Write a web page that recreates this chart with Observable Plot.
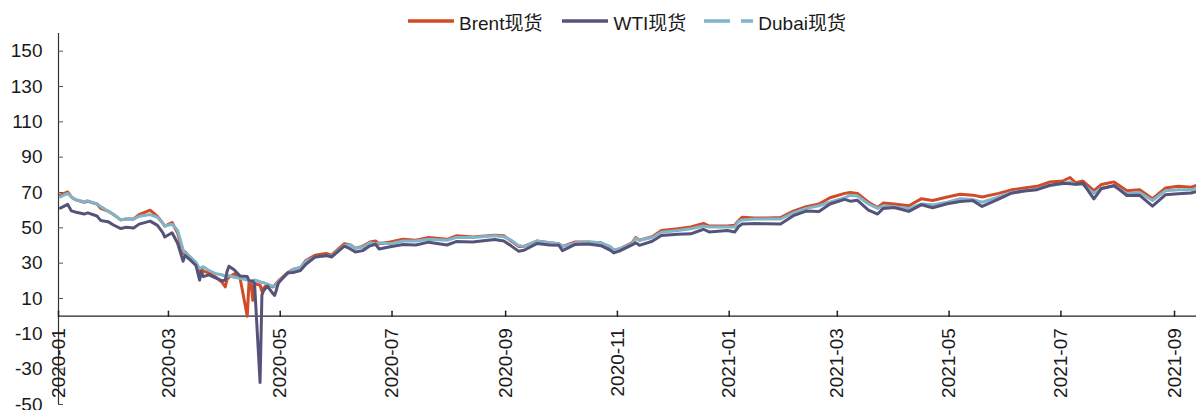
<!DOCTYPE html>
<html>
<head>
<meta charset="utf-8">
<script src="https://cdn.jsdelivr.net/npm/d3@7"></script>
<script src="https://cdn.jsdelivr.net/npm/@observablehq/plot@0.6"></script>
<style>
  html, body { margin: 0; padding: 0; background: #fff; }
  #wrap { position: relative; width: 1196px; height: 410px; font-family: "Liberation Sans", Arial, "Noto Sans CJK SC", sans-serif; }
  #legend { position: absolute; top: 9px; left: 58px; width: 1138px; height: 24px; display: flex; justify-content: center; align-items: center; font-size: 19px; color: #1a1a1a; }
  .item { display: flex; align-items: center; }
  .item svg { margin-right: 4px; }
</style>
</head>
<body>
<div id="wrap">
  <div id="legend"></div>
  <div id="chart"></div>
</div>
<script>
const seriesNames = ["Brent现货", "WTI现货", "Dubai现货"];
const seriesColors = ["#D24A26", "#56537A", "#80B4CB"];

const dates = [
  "2020-01-02","2020-01-06","2020-01-08","2020-01-10","2020-01-15","2020-01-17","2020-01-22","2020-01-24","2020-01-28","2020-01-31",
  "2020-02-04","2020-02-07","2020-02-11","2020-02-14","2020-02-20","2020-02-24","2020-02-27","2020-02-28",
  "2020-03-03","2020-03-06","2020-03-09","2020-03-10","2020-03-13","2020-03-16","2020-03-18","2020-03-19","2020-03-20","2020-03-23","2020-03-27","2020-03-30",
  "2020-04-01","2020-04-02","2020-04-03","2020-04-06","2020-04-09","2020-04-13","2020-04-14","2020-04-15","2020-04-16","2020-04-17","2020-04-20","2020-04-21","2020-04-22","2020-04-24","2020-04-27","2020-04-28","2020-04-30",
  "2020-05-05","2020-05-08","2020-05-12","2020-05-15","2020-05-20","2020-05-26","2020-05-29",
  "2020-06-05","2020-06-08","2020-06-11","2020-06-15","2020-06-19","2020-06-22","2020-06-24","2020-06-30",
  "2020-07-07","2020-07-14","2020-07-21","2020-07-31","2020-08-05","2020-08-14","2020-08-26","2020-08-31",
  "2020-09-04","2020-09-08","2020-09-11","2020-09-18","2020-09-25","2020-09-30",
  "2020-10-02","2020-10-09","2020-10-16","2020-10-23","2020-10-28","2020-10-30",
  "2020-11-02","2020-11-09","2020-11-11","2020-11-13","2020-11-20","2020-11-25",
  "2020-12-04","2020-12-11","2020-12-18","2020-12-21","2020-12-31",
  "2021-01-04","2021-01-06","2021-01-08","2021-01-15","2021-01-22","2021-01-29",
  "2021-02-05","2021-02-12","2021-02-19","2021-02-25",
  "2021-03-05","2021-03-08","2021-03-12","2021-03-18","2021-03-23","2021-03-26",
  "2021-04-01","2021-04-09","2021-04-16","2021-04-22","2021-04-30",
  "2021-05-07","2021-05-14","2021-05-19","2021-05-28",
  "2021-06-04","2021-06-11","2021-06-18","2021-06-25",
  "2021-07-02","2021-07-06","2021-07-09","2021-07-13","2021-07-19","2021-07-23","2021-07-30",
  "2021-08-06","2021-08-13","2021-08-20","2021-08-27",
  "2021-09-03","2021-09-10","2021-09-13"
];

const brent = [
  68.5,70.3,67.5,66.0,64.5,65.0,63.5,61.0,59.5,57.5,
  54.5,55.0,55.0,57.5,60.0,56.5,52.5,51.0,
  53.0,47.0,35.5,36.5,33.0,29.0,24.5,27.0,25.5,24.5,22.0,19.5,
  16.5,21.0,22.0,24.0,22.0,0,20.0,19.5,9.0,18.5,17.5,14.0,16.0,18.0,16.5,17.5,20.0,
  24.5,26.5,27.5,31.5,34.5,35.5,34.5,
  41.0,40.5,38.5,39.5,42.0,42.5,41.0,42.0,
  43.5,43.0,44.5,43.5,45.5,44.8,45.8,45.5,
  42.5,39.5,39.5,42.5,41.5,41.0,
  39.5,42.0,42.0,41.5,39.0,37.5,
  38.0,41.5,44.5,43.0,45.0,48.5,
  49.5,50.5,52.5,51.0,51.0,
  51.5,54.0,56.0,55.5,55.5,55.8,
  59.5,62.0,63.5,67.0,
  69.5,70.0,69.5,64.5,61.5,64.0,
  63.5,62.5,66.5,65.5,67.5,
  69.0,68.5,67.5,69.5,
  71.5,72.5,73.5,76.0,
  76.5,78.5,75.5,76.5,71.0,74.5,76.0,
  71.0,71.5,66.5,72.5,
  73.5,73.0,74.0
];

const wti = [
  61.2,63.3,59.6,59.0,57.8,58.5,56.7,54.2,53.5,51.6,
  49.6,50.3,49.9,52.1,53.8,51.4,47.1,44.8,
  47.2,41.3,31.1,34.4,31.7,28.7,20.4,25.2,22.4,23.4,21.5,20.1,
  20.3,25.3,28.3,26.1,22.8,22.4,20.1,19.9,19.9,18.3,-37.6,12.0,14.5,17.0,12.8,11.8,18.8,
  24.6,24.7,25.8,29.4,33.5,34.4,33.5,
  39.6,38.2,36.3,37.1,39.8,40.7,38.0,39.3,
  40.6,40.3,41.9,40.3,42.2,42.0,43.4,42.6,
  39.8,36.8,37.3,41.1,40.3,40.2,
  37.1,40.6,40.9,39.9,37.4,35.8,
  36.8,40.3,41.5,40.1,42.4,45.7,
  46.3,46.6,49.2,47.7,48.5,
  47.6,50.6,52.2,52.4,52.3,52.2,
  56.9,59.5,59.2,63.5,
  66.1,65.1,65.6,60.0,57.8,61.0,
  61.5,59.3,63.1,61.4,63.6,
  64.9,65.4,62.1,66.3,
  69.6,70.9,71.6,74.1,
  75.2,75.0,74.6,75.3,66.4,72.1,74.0,
  68.3,68.4,62.3,68.7,
  69.3,69.7,70.5
];

const dubai = [
  67.5,69.5,67.5,66.0,64.8,65.3,63.5,62.0,59.5,57.5,
  54.5,55.0,55.0,56.5,57.5,56.0,52.5,51.0,
  52.0,48.5,37.5,36.0,33.5,30.5,27.0,27.5,28.0,26.0,24.0,23.5,
  22.5,22.5,23.0,22.0,21.5,20.5,20.0,19.5,20.0,20.5,19.5,19.0,19.0,18.0,17.0,17.0,19.5,
  24.0,26.5,27.5,31.0,33.5,34.0,34.0,
  40.0,40.5,38.5,39.0,41.5,41.0,41.5,41.0,
  42.5,42.5,43.5,43.0,44.5,44.5,45.5,45.0,
  43.0,40.0,39.5,42.5,41.5,41.0,
  39.5,41.5,42.0,41.5,39.5,37.5,
  38.0,41.0,44.0,43.0,44.5,47.5,
  48.5,49.5,51.0,50.5,50.5,
  50.5,53.5,54.5,55.0,55.0,55.0,
  58.5,61.0,62.5,64.5,
  67.0,68.5,68.0,63.5,61.0,62.5,
  62.0,61.0,63.5,63.0,64.5,
  66.5,66.0,64.5,67.5,
  70.0,71.0,72.0,74.0,
  75.0,76.0,74.5,74.5,69.5,72.5,73.5,
  69.5,70.0,65.5,71.0,
  71.5,71.5,72.3
];

const xTickLabels = ["2020-01","2020-03","2020-05","2020-07","2020-09","2020-11","2021-01","2021-03","2021-05","2021-07","2021-09"];
const yTicks = [-50,-30,-10,10,30,50,70,90,110,130,150];

const parse = d3.utcParse("%Y-%m-%d");
const rows = dates.map((d, i) => ({date: parse(d), Brent: brent[i], WTI: wti[i], Dubai: dubai[i]}));
const xTicks = xTickLabels.map(s => parse(s + "-01"));
const xStart = parse("2020-01-01");
const xEnd = rows[rows.length - 1].date;

const chart = Plot.plot({
  width: 1196,
  height: 410,
  marginLeft: 58,
  marginRight: 0,
  marginTop: 33,
  marginBottom: 6,
  style: {fontFamily: '"Liberation Sans", Arial, sans-serif', fontSize: "19px", color: "#1a1a1a", background: "transparent"},
  x: {type: "utc", domain: [xStart, xEnd], axis: null},
  y: {domain: [-50, 160]},
  marks: [
    Plot.ruleX([xStart], {stroke: "#333", strokeWidth: 1.2}),
    Plot.axisY({ticks: yTicks, tickSize: 5, dx: 5, tickPadding: 16, stroke: "#555", label: null, tickFormat: d => String(d)}),
    Plot.ruleY([0], {stroke: "#222", strokeWidth: 1.4}),
    Plot.vector(xTicks, {x: d => d, y: () => 0, length: 5, anchor: "start", stroke: "#222",
      shape: {draw(ctx, l) { ctx.moveTo(0, 0); ctx.lineTo(0, -l); }}}),
    Plot.text(xTicks, {x: d => d, y: () => 0, text: (d, i) => xTickLabels[i], rotate: -90, textAnchor: "end", lineAnchor: "middle", dy: 12, fill: "#1a1a1a"}),
    Plot.line(rows, {x: "date", y: "Brent", stroke: seriesColors[0], strokeWidth: 3}),
    Plot.line(rows, {x: "date", y: "Dubai", stroke: seriesColors[2], strokeWidth: 3}),
    Plot.line(rows, {x: "date", y: "WTI", stroke: seriesColors[1], strokeWidth: 3})
  ]
});
document.getElementById("chart").appendChild(chart);

const legend = document.getElementById("legend");
seriesNames.forEach((name, i) => {
  const item = document.createElement("div");
  item.className = "item";
  item.style.marginRight = i < seriesNames.length - 1 ? (i === 0 ? "20px" : "18px") : "0";
  const dash = i === 2 ? ' stroke-dasharray="26 11"' : "";
  const w = i === 2 ? 49 : 46;
  item.innerHTML = `<svg width="${w + 1}" height="8"><line x1="0" y1="4" x2="${w}" y2="4" stroke="${seriesColors[i]}" stroke-width="3.5"${dash}/></svg><span>${name}</span>`;
  legend.appendChild(item);
});
</script>
</body>
</html>
